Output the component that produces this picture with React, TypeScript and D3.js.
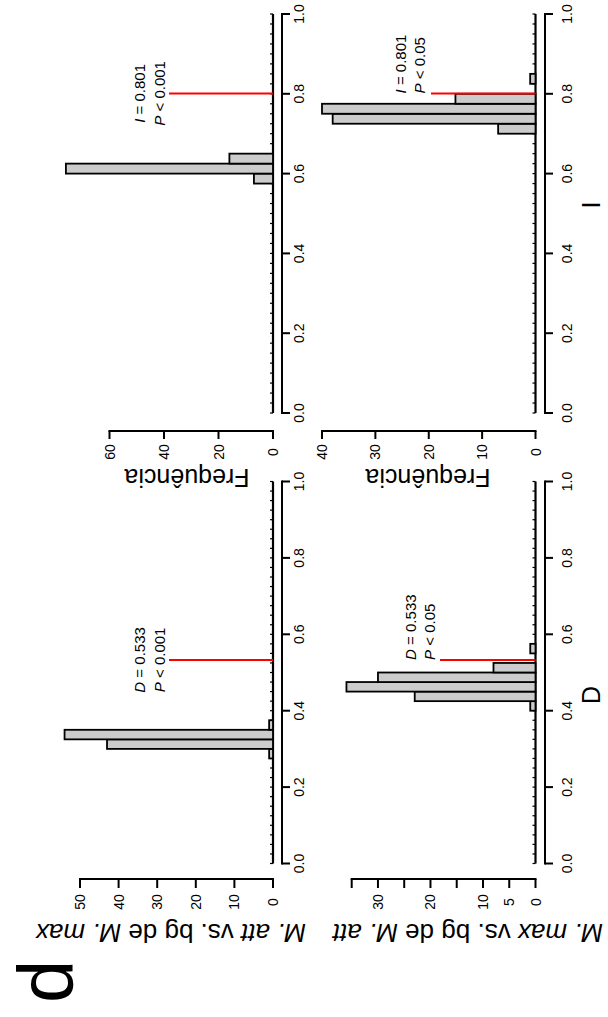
import React from 'react';
import * as d3 from 'd3';

// The figure is laid out landscape (W x H) and then turned a quarter turn
// counter-clockwise to fit the portrait page.
const W = 1017;
const H = 608;

const BIN = 0.025;
const VALUE_TICKS = [0, 0.2, 0.4, 0.6, 0.8, 1.0];

// M. att vs. bg de M. max  (bin start, count)
const attDStarts = [0.275, 0.3, 0.325, 0.35];
const attDCounts = [1, 43, 54, 1];
const attIStarts = [0.575, 0.6, 0.625];
const attICounts = [7, 76, 16];

// M. max vs. bg de M. att
const maxDStarts = [0.4, 0.425, 0.45, 0.475, 0.5, 0.55];
const maxDCounts = [1, 23, 36, 30, 8, 1];
const maxIStarts = [0.7, 0.725, 0.75, 0.775, 0.825];
const maxICounts = [7, 38, 40, 15, 1];

const OBS_D = 0.533;
const OBS_I = 0.801;

const freqTicksAttD = [0, 10, 20, 30, 40, 50];
const freqLabelsAttD = ['0', '10', '20', '30', '40', '50'];
const freqTicksAttI = [0, 20, 40, 60];
const freqLabelsAttI = ['0', '20', '40', '60'];
const freqTicksMaxD = [0, 5, 10, 15, 20, 25, 30, 35];
const freqLabelsMaxD = ['0', '5', '10', '', '20', '', '30', ''];
const freqTicksMaxI = [0, 10, 20, 30, 40];
const freqLabelsMaxI = ['0', '10', '20', '30', '40'];

const FONT = '"Liberation Sans", Arial, Helvetica, sans-serif';

const COLS = {
  D: { x0: 153.5, x1: 535.5, axisX: 138, tickEnd: 129, labelX: 115, xlabX: 322 },
  I: { x0: 604, x1: 1003, axisX: 586, tickEnd: 578, labelX: 565, xlabX: 812 },
};
const ROWS = [
  { base: 273, axisY: 282, tickY: 290, labelY: 304 },
  { base: 535.5, axisY: 545, tickY: 553, labelY: 572 },
];

type Panel = {
  col: 'D' | 'I';
  row: number;
  starts: number[];
  counts: number[];
  fTicks: number[];
  fLabels: string[];
  fTopPx: number;
  stat: number;
  statName: string;
  pText: string;
  anchor: 'middle' | 'start';
  textY: [number, number];
  redTop: number;
};

const panels: Panel[] = [
  { col: 'D', row: 0, starts: attDStarts, counts: attDCounts, fTicks: freqTicksAttD, fLabels: freqLabelsAttD, fTopPx: 80, stat: OBS_D, statName: 'D', pText: '0.001', anchor: 'middle', textY: [145, 165], redTop: 169 },
  { col: 'I', row: 0, starts: attIStarts, counts: attICounts, fTicks: freqTicksAttI, fLabels: freqLabelsAttI, fTopPx: 109.5, stat: OBS_I, statName: 'I', pText: '0.001', anchor: 'middle', textY: [145, 165], redTop: 169 },
  { col: 'D', row: 1, starts: maxDStarts, counts: maxDCounts, fTicks: freqTicksMaxD, fLabels: freqLabelsMaxD, fTopPx: 351.7, stat: OBS_D, statName: 'D', pText: '0.05', anchor: 'start', textY: [416, 435], redTop: 440 },
  { col: 'I', row: 1, starts: maxIStarts, counts: maxICounts, fTicks: freqTicksMaxI, fLabels: freqLabelsMaxI, fTopPx: 322, stat: OBS_I, statName: 'I', pText: '0.05', anchor: 'start', textY: [406, 425], redTop: 431 },
];

function HistPanel({ p }: { p: Panel }) {
  const c = COLS[p.col];
  const r = ROWS[p.row];
  const xs = d3.scaleLinear().domain([0, 1]).range([c.x0, c.x1]);
  const fMax = p.fTicks[p.fTicks.length - 1];
  const ys = d3.scaleLinear().domain([0, fMax]).range([r.base, p.fTopPx]);
  const breaks = d3.range(0, 1 + BIN / 2, BIN);
  const sx = xs(p.stat);
  return (
    <g>
      {/* empty bins along the zero line */}
      {breaks.map((b, i) => (
        <line key={'n' + i} x1={xs(b)} x2={xs(b)} y1={r.base} y2={r.base - 3} stroke="#000" strokeWidth={1.2} />
      ))}
      <line x1={xs(0)} x2={xs(1)} y1={r.base} y2={r.base} stroke="#000" strokeWidth={2.2} />
      {p.starts.map((s, i) => (
        <rect
          key={'b' + i}
          x={xs(s)}
          width={xs(s + BIN) - xs(s)}
          y={ys(p.counts[i])}
          height={r.base - ys(p.counts[i])}
          fill="#cccccc"
          stroke="#000"
          strokeWidth={1.8}
        />
      ))}
      {/* observed statistic */}
      <line x1={sx} x2={sx} y1={p.redTop} y2={r.base} stroke="#ff0000" strokeWidth={2} />
      <text x={sx} y={p.textY[0]} textAnchor={p.anchor} fontSize={15}>
        <tspan fontStyle="italic">{p.statName}</tspan>
        {' = ' + p.stat.toFixed(3)}
      </text>
      <text x={sx} y={p.textY[1]} textAnchor={p.anchor} fontSize={15}>
        <tspan fontStyle="italic">P</tspan>
        {' < ' + p.pText}
      </text>
      {/* value axis */}
      <line x1={xs(0)} x2={xs(1)} y1={r.axisY} y2={r.axisY} stroke="#000" strokeWidth={2} strokeLinecap="square" />
      {VALUE_TICKS.map((t) => (
        <g key={'vt' + t}>
          <line x1={xs(t)} x2={xs(t)} y1={r.axisY} y2={r.tickY} stroke="#000" strokeWidth={2} />
          <text x={xs(t)} y={r.labelY} textAnchor="middle" fontSize={14}>
            {t.toFixed(1)}
          </text>
        </g>
      ))}
      {/* frequency axis */}
      <line x1={c.axisX} x2={c.axisX} y1={ys(0)} y2={ys(fMax)} stroke="#000" strokeWidth={2} strokeLinecap="square" />
      {p.fTicks.map((t, i) => (
        <g key={'ft' + t}>
          <line x1={c.axisX} x2={c.tickEnd} y1={ys(t)} y2={ys(t)} stroke="#000" strokeWidth={2} />
          {p.fLabels[i] && (
            <text x={c.labelX} y={ys(t)} textAnchor="middle" dominantBaseline="central" fontSize={14}>
              {p.fLabels[i]}
            </text>
          )}
        </g>
      ))}
    </g>
  );
}

export default function App() {
  return (
    <svg
      width={H}
      height={W}
      style={{ position: 'absolute', left: 0, top: 0, fontFamily: FONT }}
    >
      <rect x={0} y={0} width={H} height={W} fill="#fff" />
      <g transform={`translate(0,${W}) rotate(-90)`}>
        {panels.map((p, i) => (
          <HistPanel key={i} p={p} />
        ))}
        {/* column titles */}
        <text x={COLS.D.xlabX} y={600} textAnchor="middle" fontSize={25}>D</text>
        <text x={COLS.I.xlabX} y={600} textAnchor="middle" fontSize={25}>I</text>
        {/* y titles */}
        <text transform="translate(548,187) rotate(-90)" textAnchor="middle" fontSize={25}>Frequência</text>
        <text transform="translate(548,428) rotate(-90)" textAnchor="middle" fontSize={25}>Frequência</text>
        <text transform="translate(93,171) rotate(-90)" textAnchor="middle" fontSize={26}>
          <tspan fontStyle="italic">M. att</tspan>
          {' vs. bg de '}
          <tspan fontStyle="italic">M. max</tspan>
        </text>
        <text transform="translate(93,468) rotate(-90)" textAnchor="middle" fontSize={26}>
          <tspan fontStyle="italic">M. max</tspan>
          {' vs. bg de '}
          <tspan fontStyle="italic">M. att</tspan>
        </text>
        {/* panel letter */}
        <text x={14} y={73} fontSize={78}>d</text>
      </g>
    </svg>
  );
}
